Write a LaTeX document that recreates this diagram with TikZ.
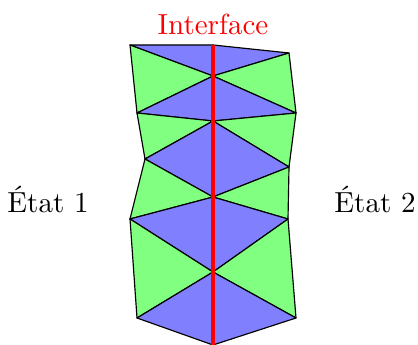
\documentclass[tikz,border=0pt]{standalone}
\usetikzlibrary{positioning}

\begin{document}
\begin{tikzpicture}[
    x=0.0121cm, y=-0.0121cm,
    tri/.style={draw=black, fill=#1!50, line join=round},
    tri/.default=blue
]
\useasboundingbox (0,0) rectangle (418,345);
% vertices of the mesh
\coordinate (l0) at (130,45);  \coordinate (c0) at (213,45);  \coordinate (r0) at (289,53);
\coordinate (c1) at (213,76);
\coordinate (l1) at (137,113); \coordinate (r1) at (296,113);
\coordinate (c2) at (213,121);
\coordinate (l2) at (145,159); \coordinate (r2) at (289,167);
\coordinate (c3) at (213,197);
\coordinate (l3) at (130,219); \coordinate (r3) at (288,219);
\coordinate (c4) at (213,272);
\coordinate (l4) at (137,318); \coordinate (r4) at (296,318);
\coordinate (c5) at (213,345);
\foreach \a/\b/\c/\col in {l0/c0/c1/blue, c0/r0/c1/blue, l0/c1/l1/green, r0/c1/r1/green,
    l1/c1/c2/blue, c1/r1/c2/blue, l1/c2/l2/green, r1/c2/r2/green,
    l2/c2/c3/blue, c2/r2/c3/blue, l2/c3/l3/green, r2/c3/r3/green,
    l3/c3/c4/blue, c3/r3/c4/blue, l3/c4/l4/green, r3/c4/r4/green,
    l4/c4/c5/blue, c4/r4/c5/blue}
  \filldraw[tri=\col] (\a) -- (\b) -- (\c) -- cycle;
\draw[red, line width=1.2pt] (c0) -- (c5);
\node[red] (iface) at (213,24) {Interface};
\node (etat1) at (48,199) {État 1};
\node (etat2) at (375,199) {État 2};
\end{tikzpicture}
\end{document}
